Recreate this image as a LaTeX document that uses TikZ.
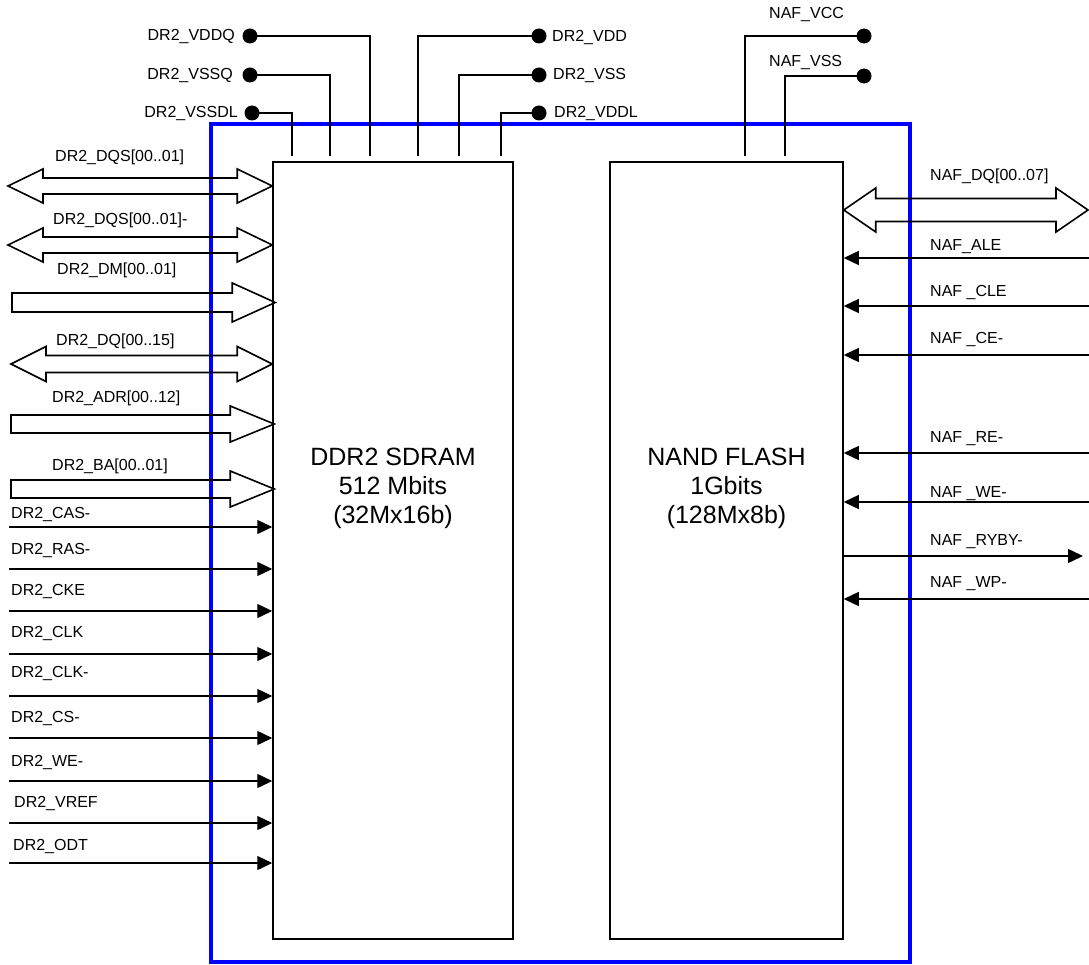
\documentclass[tikz,border=0pt]{standalone}
\usepackage{fontspec}
\setmainfont{Liberation Sans}
\usetikzlibrary{calc,arrows.meta}
\newcommand\dbus[5]{\draw[bus] (#1) -- ($(#1)+(#5,-#4)$) -- ($(#1)+(#5,-#3)$) -- ($(#2)+(-#5,-#3)$) -- ($(#2)+(-#5,-#4)$) -- (#2) -- ($(#2)+(-#5,#4)$) -- ($(#2)+(-#5,#3)$) -- ($(#1)+(#5,#3)$) -- ($(#1)+(#5,#4)$) -- cycle;}
\newcommand\sbus[5]{\draw[bus] ($(#1)+(0,-#3)$) -- ($(#2)+(-#5,-#3)$) -- ($(#2)+(-#5,-#4)$) -- (#2) -- ($(#2)+(-#5,#4)$) -- ($(#2)+(-#5,#3)$) -- ($(#1)+(0,#3)$) -- cycle;}
\begin{document}
\begin{tikzpicture}[x=1pt,y=-1pt,
  chip/.style={draw, line width=1.5pt, minimum height=777pt, inner sep=0pt},
  wire/.style={line width=1.4pt},
  sig/.style={line width=1.4pt, -{Triangle[length=15pt,width=14pt]}},
  bus/.style={line width=1.6pt, line join=miter},
  pin/.style={circle, fill=black, minimum size=15pt, inner sep=0pt},
  lbl/.style={font=\fontsize{16}{19}\selectfont, inner sep=0pt},
  big/.style={font=\fontsize{25}{29}\selectfont, align=center, inner sep=0pt}]
\useasboundingbox (0,0) rectangle (1089,965);
% enclosure
\draw[draw={rgb,255:red,0;green,0;blue,255}, line width=3.2pt] (211,124) rectangle (910,962);
% chips
\node[chip, minimum width=240pt] (ddr) at (393,550.5) {};
\node[chip, minimum width=233pt] (nand) at (726.5,550.5) {};
\node[big] (ddrtxt) at (393,488) {DDR2 SDRAM\\512 Mbits\\(32Mx16b)};
\node[big] (nandtxt) at (726.5,488) {NAND FLASH\\1Gbits\\(128Mx8b)};
% power pins
\node[pin] (vddq) at (250,36) {};
\node[pin] (vssq) at (250,75) {};
\node[pin] (vssdl) at (252,113) {};
\node[pin] (vdd) at (539,36) {};
\node[pin] (vss) at (539,75) {};
\node[pin] (vddl) at (539,113) {};
\node[pin] (nvcc) at (864,36) {};
\node[pin] (nvss) at (864,76) {};
\coordinate (tvddq) at (370,156);
\coordinate (tvssq) at (330,156);
\coordinate (tvssdl) at (292,156);
\coordinate (tvdd) at (418,156);
\coordinate (tvss) at (459,156);
\coordinate (tvddl) at (501,156);
\coordinate (tnvcc) at (745,156);
\coordinate (tnvss) at (785,156);
\draw[wire] (vddq.center) -| (tvddq);
\draw[wire] (vssq.center) -| (tvssq);
\draw[wire] (vssdl.center) -| (tvssdl);
\draw[wire] (vdd.center) -| (tvdd);
\draw[wire] (vss.center) -| (tvss);
\draw[wire] (vddl.center) -| (tvddl);
\draw[wire] (nvcc.center) -| (tnvcc);
\draw[wire] (nvss.center) -| (tnvss);
\node[lbl, anchor=base east] (lvddq) at (235,41) {DR2\_VDDQ};
\node[lbl, anchor=base east] (lvssq) at (233,80) {DR2\_VSSQ};
\node[lbl, anchor=base east] (lvssdl) at (238,118) {DR2\_VSSDL};
\node[lbl, anchor=base west] (lvdd) at (552,42) {DR2\_VDD};
\node[lbl, anchor=base west] (lvss) at (553,80) {DR2\_VSS};
\node[lbl, anchor=base west] (lvddl) at (554,118) {DR2\_VDDL};
\node[lbl, anchor=base west] (lnvcc) at (769,19) {NAF\_VCC};
\node[lbl, anchor=base west] (lnvss) at (769,67) {NAF\_VSS};
% left buses
\coordinate (dqs) at (8,186);   \coordinate (dqsE) at (dqs -| ddr.west);
\coordinate (dqsn) at (8,245);  \coordinate (dqsnE) at (dqsn -| ddr.west);
\coordinate (dm) at (12,302.5); \coordinate (dmE) at ($(dm -| ddr.west)+(3,0)$);
\coordinate (dq) at (11,364);   \coordinate (dqE) at (dq -| ddr.west);
\coordinate (adr) at (11,424);  \coordinate (adrE) at ($(adr -| ddr.west)+(2,0)$);
\coordinate (ba) at (11,489);   \coordinate (baE) at ($(ba -| ddr.west)+(2,0)$);
\dbus{dqs}{dqsE}{8}{17}{35}
\dbus{dqsn}{dqsnE}{8}{17}{35}
\sbus{dm}{dmE}{9.5}{19.5}{43}
\dbus{dq}{dqE}{8.5}{17.5}{35}
\sbus{adr}{adrE}{9}{18}{44}
\sbus{ba}{baE}{9}{18}{44}
\node[lbl, anchor=base west] (ldqs) at (55,162) {DR2\_DQS[00..01]};
\node[lbl, anchor=base west] (ldqsn) at (53,225) {DR2\_DQS[00..01]-};
\node[lbl, anchor=base west] (ldm) at (57,275) {DR2\_DM[00..01]};
\node[lbl, anchor=base west] (ldq) at (56,345) {DR2\_DQ[00..15]};
\node[lbl, anchor=base west] (ladr) at (52,402) {DR2\_ADR[00..12]};
\node[lbl, anchor=base west] (lba) at (52,470) {DR2\_BA[00..01]};
% left signals
\coordinate (cas) at (9,527);
\coordinate (ras) at (9,569);
\coordinate (cke) at (9,611);
\coordinate (clk) at (9,654);
\coordinate (clkn) at (9,696);
\coordinate (cs) at (9,738);
\coordinate (we) at (9,781);
\coordinate (vref) at (9,823);
\coordinate (odt) at (9,863);
\foreach \s in {cas,ras,cke,clk,clkn,cs,we,vref,odt}
  \draw[sig] (\s) -- (\s -| ddr.west);
\node[lbl, anchor=base west] (lcas) at (11,518) {DR2\_CAS-};
\node[lbl, anchor=base west] (lras) at (11,554) {DR2\_RAS-};
\node[lbl, anchor=base west] (lcke) at (11,595) {DR2\_CKE};
\node[lbl, anchor=base west] (lclk) at (11,637) {DR2\_CLK};
\node[lbl, anchor=base west] (lclkn) at (11,677) {DR2\_CLK-};
\node[lbl, anchor=base west] (lcs) at (11,722) {DR2\_CS-};
\node[lbl, anchor=base west] (lwe) at (11,766) {DR2\_WE-};
\node[lbl, anchor=base west] (lvref) at (14,807) {DR2\_VREF};
\node[lbl, anchor=base west] (lodt) at (13,850) {DR2\_ODT};
% right side
\coordinate (ndq) at (1088,210); \coordinate (ndqW) at (ndq -| nand.east);
\dbus{ndqW}{ndq}{11.5}{22}{32}
\coordinate (ale) at (1089,258);
\coordinate (cle) at (1089,306);
\coordinate (ce) at (1089,355);
\coordinate (re) at (1089,453);
\coordinate (nwe) at (1089,502);
\coordinate (wp) at (1089,599);
\foreach \s in {ale,cle,ce,re,nwe,wp}
  \draw[sig] (\s) -- (\s -| nand.east);
\coordinate (ryby) at (1083,556);
\draw[sig] (ryby -| nand.east) -- (ryby);
\node[lbl, anchor=base west] (lndq) at (930,181) {NAF\_DQ[00..07]};
\node[lbl, anchor=base west] (lale) at (930,251) {NAF\_ALE};
\node[lbl, anchor=base west] (lcle) at (930,297) {NAF \_CLE};
\node[lbl, anchor=base west] (lce) at (930,344) {NAF \_CE-};
\node[lbl, anchor=base west] (lre) at (930,442) {NAF \_RE-};
\node[lbl, anchor=base west] (lnwe) at (930,497) {NAF \_WE-};
\node[lbl, anchor=base west] (lryby) at (930,545) {NAF \_RYBY-};
\node[lbl, anchor=base west] (lwp) at (930,587) {NAF \_WP-};
\end{tikzpicture}
\end{document}
